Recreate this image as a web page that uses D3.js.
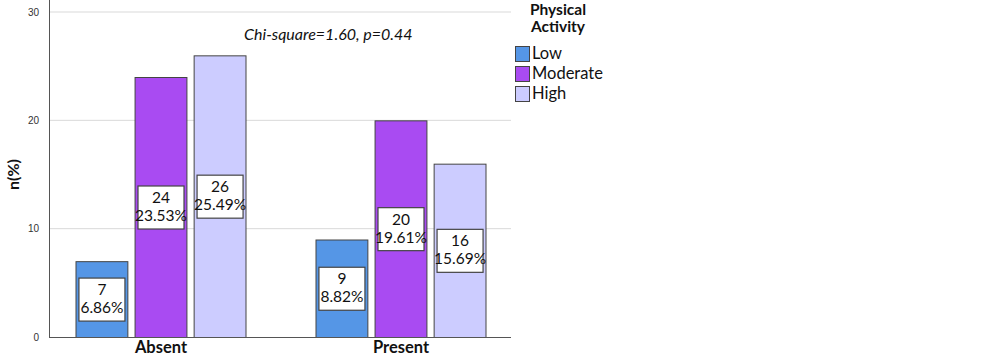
<!DOCTYPE html>
<html><head><meta charset="utf-8">
<script src="https://cdn.jsdelivr.net/npm/d3@7"></script>
<style>body{margin:0;background:#fff;} svg{display:block;}</style>
</head><body>
<svg id="c" width="993" height="357"></svg>
<script>
const categories = ["Absent", "Present"];
const series = ["Low", "Moderate", "High"];
const counts = { Low: [7, 9], Moderate: [24, 20], High: [26, 16] };
const percents = { Low: ["6.86%", "8.82%"], Moderate: ["23.53%", "19.61%"], High: ["25.49%", "15.69%"] };
const yTicks = [0, 10, 20, 30];
const colors = { Low: "#5596e6", Moderate: "#a94bf2", High: "#ccccff" };
const annotation = "Chi-square=1.60, p=0.44";
const legendTitle = ["Physical", "Activity"];

const svg = d3.select("#c");
const plotLeft = 49, plotRight = 511, plotTop = 12, plotBottom = 337;
const y = d3.scaleLinear().domain([0, 30]).range([plotBottom, plotTop]);
const x0 = d3.scaleBand().domain(categories).range([41, 521]).paddingInner(0).paddingOuter(0);
const groupW = 171;
const x1 = d3.scaleBand().domain(series).range([0, groupW]).paddingInner(0.105).paddingOuter(0);
const font = "Lato, 'Open Sans', sans-serif";

// gridlines
svg.append("g").selectAll("line").data(yTicks.filter(d => d > 0)).join("line")
  .attr("x1", plotLeft).attr("x2", plotRight)
  .attr("y1", d => y(d)).attr("y2", d => y(d))
  .attr("stroke", "#d9d9d9").attr("stroke-width", 1);

// y axis
const yAxis = d3.axisLeft(y).tickValues(yTicks).tickSize(0).tickPadding(10);
const ga = svg.append("g").attr("transform", `translate(${plotLeft},0)`).call(yAxis);
ga.select(".domain").remove();
ga.selectAll("text").attr("font-family", "'Liberation Sans', Arial, sans-serif").attr("font-size", 10).attr("fill", "#333");
svg.append("line").attr("x1", plotLeft + 0.5).attr("x2", plotLeft + 0.5).attr("y1", 0).attr("y2", plotBottom).attr("stroke", "#555");

// bars
const groups = svg.append("g").selectAll("g").data(categories).join("g")
  .attr("transform", d => `translate(${x0(d) + (x0.bandwidth() - groupW) / 2},0)`);

series.forEach(s => {
  groups.append("rect")
    .attr("x", x1(s) + 0.5)
    .attr("y", (d, i) => y(counts[s][i]) + 0.5)
    .attr("width", x1.bandwidth() - 1)
    .attr("height", (d, i) => y(0) - y(counts[s][i]))
    .attr("fill", colors[s]).attr("stroke", "#444").attr("stroke-width", 1);
});

// bottom axis line
svg.append("line").attr("x1", plotLeft).attr("x2", plotRight).attr("y1", plotBottom + 0.5).attr("y2", plotBottom + 0.5).attr("stroke", "#555");

// labels
series.forEach(s => {
  const lg = groups.append("g")
    .attr("transform", (d, i) => `translate(${x1(s) + x1.bandwidth() / 2},${y(counts[s][i] / 2)})`);
  lg.append("rect").attr("x", -23).attr("y", -21).attr("width", 46).attr("height", 43)
    .attr("fill", "#fff").attr("stroke", "#444").attr("stroke-width", 1.2);
  lg.append("text").attr("text-anchor", "middle").attr("y", -4)
    .attr("font-family", font).attr("font-size", 15.5).attr("fill", "#111")
    .text((d, i) => counts[s][i]);
  lg.append("text").attr("text-anchor", "middle").attr("y", 14)
    .attr("font-family", font).attr("font-size", 15.5).attr("fill", "#111")
    .text((d, i) => percents[s][i]);
});

// category labels
svg.append("g").selectAll("text").data(categories).join("text")
  .attr("x", d => x0(d) + x0.bandwidth() / 2).attr("y", 353)
  .attr("text-anchor", "middle").attr("font-family", font).attr("font-weight", "bold")
  .attr("font-size", 16.5).attr("fill", "#111").text(d => d);

// y title
svg.append("text").attr("transform", `translate(19,${(plotTop + plotBottom) / 2}) rotate(-90)`)
  .attr("text-anchor", "middle").attr("font-family", font).attr("font-weight", "bold")
  .attr("font-size", 16).attr("fill", "#111").text("n(%)");

// annotation
svg.append("text").attr("x", 244).attr("y", 40)
  .attr("font-family", font).attr("font-style", "italic").attr("font-size", 16).attr("fill", "#111")
  .text(annotation);

// legend
svg.append("g").selectAll("text").data(legendTitle).join("text")
  .attr("x", 558).attr("y", (d, i) => 15 + i * 17)
  .attr("text-anchor", "middle").attr("font-family", font).attr("font-weight", "bold")
  .attr("font-size", 15.5).attr("fill", "#111").text(d => d);
const leg = svg.append("g").selectAll("g").data(series).join("g")
  .attr("transform", (d, i) => `translate(515,${46 + i * 20})`);
leg.append("rect").attr("x", 0.5).attr("y", 0.5).attr("width", 14).attr("height", 15)
  .attr("fill", d => colors[d]).attr("stroke", "#444");
leg.append("text").attr("x", 17).attr("y", 13)
  .attr("font-family", font).attr("font-size", 16.5).attr("fill", "#111").text(d => d);
</script>
</body></html>
